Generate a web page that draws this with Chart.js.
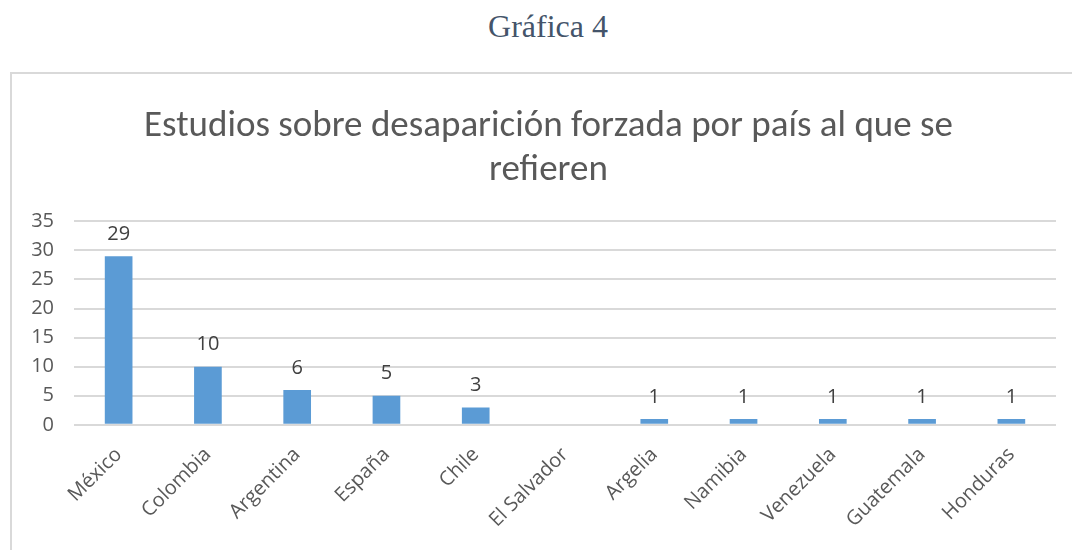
<!DOCTYPE html>
<html>
<head>
<meta charset="utf-8">
<script src="https://cdn.jsdelivr.net/npm/chart.js@4"></script>
<style>
  body { margin: 0; background: #fff; width: 1072px; height: 550px; overflow: hidden; }
  #heading { position: absolute; left: 0; top: 8px; width: 1096px; text-align: center;
    font-family: "Liberation Serif", serif; font-size: 32px; color: #44546a; }
  #box { position: absolute; left: 10px; top: 72px; width: 1070px; height: 490px;
    border: 2px solid #d9d9d9; box-sizing: border-box; }
</style>
</head>
<body>
<div id="heading">Gráfica 4</div>
<div id="box"><canvas id="myChart"></canvas></div>
<script>
const countries = ['México', 'Colombia', 'Argentina', 'España', 'Chile', 'El Salvador',
    'Argelia', 'Namibia', 'Venezuela', 'Guatemala', 'Honduras']
// El Salvador shows no bar or label in the picture
const studies = [29, 10, 6, 5, 3, null, 1, 1, 1, 1, 1]
const yTicks = [0, 5, 10, 15, 20, 25, 30, 35]
const chartTitle = ['Estudios sobre desaparición forzada por país al que se', 'refieren']

//draw the value above each bar
const valueLabels = {
    id: 'valueLabels',
    afterLayout(chart) {
        // title sits centred on the whole box, a bit right of the plot centre
        chart.titleBlock.left += 6
        chart.titleBlock.right += 6
    },
    afterDatasetsDraw(chart) {
        const ctx = chart.ctx
        const meta = chart.getDatasetMeta(0)
        ctx.save()
        ctx.font = '20px "Open Sans"'
        ctx.fillStyle = '#404040'
        ctx.textAlign = 'center'
        ctx.textBaseline = 'bottom'
        meta.data.forEach((bar, i) => {
            const v = chart.data.datasets[0].data[i]
            if (v === null) return
            ctx.fillText(v, bar.x, bar.y - 12)
        })
        ctx.restore()
    }
}

const grafica = document.querySelector('#myChart')
const config = {
    type: 'bar',
    data: {
        labels: countries,
        datasets: [{
            data: studies,
            backgroundColor: '#5b9bd5',
            categoryPercentage: 1,
            barPercentage: 0.31
        }]
    },
    options: {
        responsive: true,
        maintainAspectRatio: false,
        animation: false,
        layout: { padding: { left: 17, right: 22, top: 31, bottom: 18 } },
        plugins: {
            legend: { display: false },
            tooltip: { enabled: false },
            title: {
                display: true,
                text: chartTitle,
                color: '#595959',
                font: { family: 'Carlito, "Open Sans"', size: 37, weight: 'normal', lineHeight: 1.18 },
                padding: { top: 0, bottom: 29 }
            }
        },
        scales: {
            x: {
                grid: { display: false },
                border: { display: false },
                ticks: {
                    color: '#595959',
                    font: { family: '"Open Sans"', size: 20 },
                    minRotation: 45,
                    maxRotation: 45,
                    padding: 10
                }
            },
            y: {
                min: 0,
                max: 35,
                afterBuildTicks: (axis) => { axis.ticks = yTicks.map(v => ({ value: v })) },
                afterFit: (axis) => { axis.width = 45 },
                grid: { color: '#d9d9d9', lineWidth: 2, drawTicks: false },
                border: { display: false },
                ticks: {
                    color: '#595959',
                    font: { family: '"Open Sans"', size: 20 },
                    padding: 20
                }
            }
        }
    },
    plugins: [valueLabels]
}
const graphicmap = new Chart(grafica, config)
</script>
</body>
</html>
